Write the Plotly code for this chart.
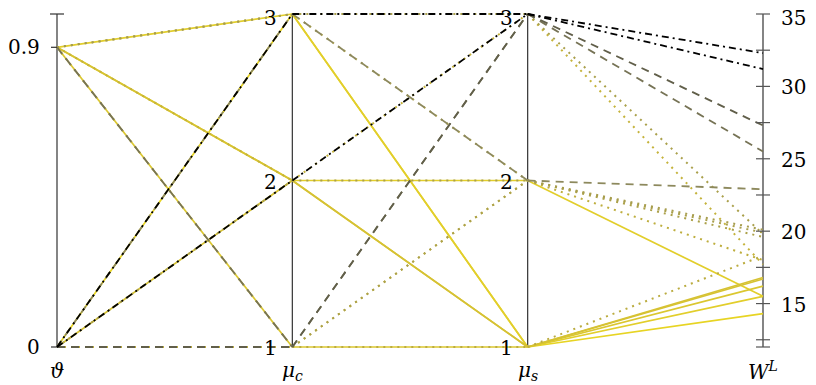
import numpy as np
import plotly.graph_objects as go

# one row per configuration: theta, mu_c, mu_s -> W^L
theta = [0, 0, 0, 0, 0, 0, 0, 0, 0, 0.9, 0.9, 0.9, 0.9, 0.9, 0.9, 0.9, 0.9, 0.9]
mu_c = [3, 3, 3, 2, 2, 2, 1, 1, 1, 3, 3, 3, 2, 2, 2, 1, 1, 1]
mu_s = [3, 2, 1, 3, 2, 1, 3, 2, 1, 3, 2, 1, 3, 2, 1, 3, 2, 1]
w_l = [32.3, 22.9, 14.3, 31.2, 19.9, 16.8, 27.3, 18.0, 18.3,
       19.8, 20.1, 15.5, 17.7, 15.5, 16.7, 25.5, 19.6, 16.2]

axis_names = ["<i>ϑ</i>", "<i>μ<sub>c</sub></i>", "<i>μ<sub>s</sub></i>", "<i>W<sup>L</sup></i>"]
theta_ticks = [0, 0.9]
theta_ticklabels = ["0", "0.9"]
mu_ticks = [1, 2, 3]
w_ticks = [15, 20, 25, 30, 35]

ranges = [(0, 1), (1, 3), (1, 3), (12, 35)]

# colour map black (high W) -> olive -> yellow (low W)
anchors = [(12, (236, 220, 20)), (15, (230, 210, 40)), (17, (212, 192, 52)),
           (18, (190, 174, 62)), (20, (168, 158, 76)), (23, (140, 136, 94)),
           (27, (104, 102, 80)), (30, (30, 30, 22)), (31, (0, 0, 0)), (35, (0, 0, 0))]


def wcolor(w):
    xs = [a[0] for a in anchors]
    rgb = [int(round(np.interp(w, xs, [a[1][k] for a in anchors]))) for k in range(3)]
    return "rgb(%d,%d,%d)" % tuple(rgb)


def wstyle(w):
    # (dash, width)
    if w > 30:
        return "7px,4px,2px,4px", 1.8
    if w > 22.5:
        return "8px,6px", 1.8
    if w > 17.5:
        return "2px,5px", 2.0
    return "solid", 1.7


def norm(v, i):
    lo, hi = ranges[i]
    return (v - lo) / (hi - lo)


def label_shift(y):
    # nudge labels at the very top down a little so they stay inside the figure
    return -4 if y > 0.99 else -1


fig = go.Figure()

PX = 1 / 235.33  # x units per pixel
PY = 1 / 333.0   # y units per pixel
axis_col = "#333333"

# axis lines
for i in range(4):
    fig.add_shape(type="line", x0=i, x1=i, y0=0, y1=1,
                  line=dict(color=axis_col, width=1.2), layer="below")

# data lines, segment by segment, lighter first so the dark ones sit on top
order = np.argsort(w_l, kind="stable")
for j in order:
    vals = [theta[j], mu_c[j], mu_s[j], w_l[j]]
    ys = [norm(v, i) for i, v in enumerate(vals)]
    dash, lw = wstyle(w_l[j])
    for k in range(3):
        fig.add_trace(go.Scatter(x=[k, k + 1], y=[ys[k], ys[k + 1]], mode="lines",
                                 line=dict(color=wcolor(w_l[j]), width=lw, dash=dash),
                                 hoverinfo="skip", showlegend=False))

font = dict(family="DejaVu Serif", size=20, color="black")

# theta axis ticks
fig.add_shape(type="line", x0=-7 * PX, x1=7 * PX, y0=1, y1=1, line=dict(color=axis_col, width=1.2))
for t, lab in zip(theta_ticks, theta_ticklabels):
    y = norm(t, 0)
    fig.add_shape(type="line", x0=-6 * PX, x1=0, y0=y, y1=y, line=dict(color=axis_col, width=1.2))
    fig.add_annotation(x=-15 * PX, y=y, text=lab, showarrow=False, xanchor="right",
                       yanchor="middle", font=font)

# mu axes labels
for i in (1, 2):
    for t in mu_ticks:
        y = norm(t, i)
        fig.add_annotation(x=i - 13 * PX, y=y, yshift=label_shift(y), text=str(t),
                           showarrow=False, xanchor="right", yanchor="middle", font=font)

# W axis ticks
for t in [12] + list(np.arange(12.5, 35.01, 2.5)):
    y = norm(t, 3)
    fig.add_shape(type="line", x0=3 - 7 * PX, x1=3 + 7 * PX, y0=y, y1=y,
                  line=dict(color="#555555", width=1.2))
for t in w_ticks:
    y = norm(t, 3)
    fig.add_annotation(x=3 + 16 * PX, y=y, yshift=label_shift(y), text=str(t),
                       showarrow=False, xanchor="left", yanchor="middle", font=font)

# axis names
for i, name in enumerate(axis_names):
    fig.add_annotation(x=i, y=-24 * PY, text=name, showarrow=False,
                       xanchor="center", yanchor="middle", font=font)

# the page body has an 8px margin, so the figure is 8px smaller than the window
fig.update_layout(
    width=808, height=377,
    margin=dict(l=0, r=0, t=0, b=0),
    paper_bgcolor="white", plot_bgcolor="white",
    xaxis=dict(range=[-49 * PX, 3 + 53 * PX], visible=False, fixedrange=True),
    yaxis=dict(range=[-38 * PY, 1 + 6 * PY], visible=False, fixedrange=True),
)

fig.write_html("out.html")
